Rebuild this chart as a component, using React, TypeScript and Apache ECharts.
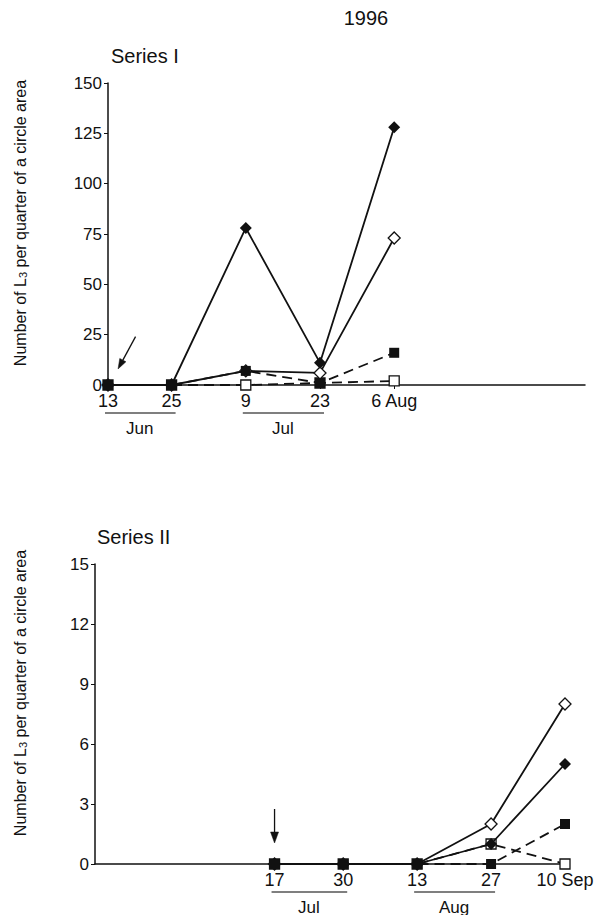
import React, { useEffect, useRef } from "react";
import * as echarts from "echarts";

const FONT = '"Liberation Sans", Arial, Helvetica, sans-serif';
const INK = "#111";

// Days counted from 13 June 1996
const topDays = [0, 12, 26, 40, 54];
const topTickLabels = ["13", "25", "9", "23", "6 Aug"];
const topFilledDiamond = [0, 0, 78, 11, 128];
const topOpenDiamond = [0, 0, 7, 6, 73];
const topFilledSquare = [0, 0, 7, 1, 16];
const topOpenSquare = [0, 0, 0, 1, 2];

const bottomDays = [34, 47, 61, 75, 89];
const bottomTickLabels = ["17", "30", "13", "27", "10 Sep"];
const bottomOpenDiamond = [0, 0, 0, 2, 8];
const bottomFilledDiamond = [0, 0, 0, 1, 5];
const bottomFilledSquare = [0, 0, 0, 0, 2];
const bottomOpenSquare = [0, 0, 0, 1, 0];

const topMonths = [
  { label: "Jun", from: 0, to: 12 },
  { label: "Jul", from: 26, to: 40 },
];
const bottomMonths = [
  { label: "Jul", from: 34, to: 47 },
  { label: "Aug", from: 61, to: 75 },
];

// arrows in data coordinates [day, value]
const topArrow = { from: [5.2, 24], to: [1.9, 8] };
const bottomArrow = { from: [34, 2.75], to: [34, 1.05] };

const yName = "Number of L{sub|3} per quarter of a circle area";

function mkSeries(
  days: number[],
  vals: number[],
  grid: number,
  kind: "fd" | "od" | "fs" | "os"
) {
  const diamond = kind === "fd" || kind === "od";
  const filled = kind === "fd" || kind === "fs";
  const z = { os: 2, od: 3, fd: 4, fs: 5 }[kind];
  return {
    type: "line",
    xAxisIndex: grid,
    yAxisIndex: grid,
    data: days.map((d, i) => [d, vals[i]]),
    symbol: diamond ? "diamond" : "rect",
    symbolSize: diamond ? 12 : 10,
    showAllSymbol: true,
    itemStyle: {
      color: filled ? INK : "#fff",
      borderColor: INK,
      borderWidth: filled ? 0 : 1.3,
      opacity: 1,
    },
    lineStyle: {
      color: INK,
      width: 1.8,
      type: diamond ? "solid" : [10, 6],
    },
    z,
    silent: true,
  };
}

function xAxisFor(grid: number, days: number[], labels: string[], max: number) {
  return {
    type: "value",
    gridIndex: grid,
    min: 0,
    max,
    axisLine: { show: true, onZero: false, lineStyle: { color: INK, width: 1.5 } },
    axisTick: {
      show: true,
      customValues: days,
      length: 4,
      lineStyle: { color: INK, width: 1 },
    },
    axisLabel: {
      customValues: days,
      formatter: (v: number) => {
        const i = days.indexOf(v);
        return i >= 0 ? labels[i] : "";
      },
      fontSize: 18,
      margin: 7,
      color: INK,
      fontFamily: FONT,
    },
    splitLine: { show: false },
  };
}

function yAxisFor(grid: number, max: number, interval: number) {
  return {
    type: "value",
    gridIndex: grid,
    min: 0,
    max,
    interval,
    axisLine: { show: true, lineStyle: { color: INK, width: 1.5 } },
    axisTick: { show: true, length: 4, lineStyle: { color: INK, width: 1 } },
    axisLabel: { fontSize: 17, margin: 6, color: INK, fontFamily: FONT },
    splitLine: { show: false },
  };
}

export default function App() {
  const ref = useRef<HTMLDivElement>(null);
  useEffect(() => {
    if (!ref.current) return;
    const chart = echarts.init(ref.current, null, { renderer: "svg" });
    const option: any = {
      animation: false,
      backgroundColor: "#fff",
      grid: [
        { left: 108, top: 83, width: 477, height: 302 },
        { left: 95, top: 564, width: 470, height: 300 },
      ],
      xAxis: [
        xAxisFor(0, topDays, topTickLabels, 90),
        xAxisFor(1, bottomDays, bottomTickLabels, 89),
      ],
      yAxis: [yAxisFor(0, 150, 25), yAxisFor(1, 15, 3)],
      series: [
        mkSeries(topDays, topOpenDiamond, 0, "od"),
        mkSeries(topDays, topFilledDiamond, 0, "fd"),
        mkSeries(topDays, topOpenSquare, 0, "os"),
        mkSeries(topDays, topFilledSquare, 0, "fs"),
        mkSeries(bottomDays, bottomOpenDiamond, 1, "od"),
        mkSeries(bottomDays, bottomFilledDiamond, 1, "fd"),
        mkSeries(bottomDays, bottomOpenSquare, 1, "os"),
        mkSeries(bottomDays, bottomFilledSquare, 1, "fs"),
      ],
    };
    chart.setOption(option);

    const px = (g: number, d: number, v: number): number[] =>
      chart.convertToPixel({ gridIndex: g } as any, [d, v]) as number[];

    const graphics: any[] = [];
    const textStyle = (text: string, size: number) => ({
      text,
      fontSize: size,
      fontFamily: FONT,
      fill: INK,
    });

    graphics.push({
      type: "text",
      x: 366,
      y: 18,
      style: { ...textStyle("1996", 20), textAlign: "center", textVerticalAlign: "middle" },
    });
    const o0 = px(0, 0, 150);
    const o1 = px(1, 0, 15);
    graphics.push({
      type: "text",
      x: o0[0] + 3,
      y: o0[1] - 27,
      style: { ...textStyle("Series I", 20), textAlign: "left", textVerticalAlign: "middle" },
    });
    graphics.push({
      type: "text",
      x: o1[0] + 2,
      y: o1[1] - 27,
      style: { ...textStyle("Series II", 20), textAlign: "left", textVerticalAlign: "middle" },
    });

    // y axis names (rotated)
    const nameCenters = [
      [20, 223],
      [20, 693],
    ];
    nameCenters.forEach(([cx, cy]) => {
      graphics.push({
        type: "text",
        x: cx,
        y: cy,
        rotation: Math.PI / 2,
        style: {
          text: yName,
          fontSize: 16,
          fontFamily: FONT,
          fill: INK,
          textAlign: "center",
          textVerticalAlign: "middle",
          rich: {
            sub: {
              fontSize: 11,
              fontFamily: FONT,
              fill: INK,
              verticalAlign: "bottom",
              lineHeight: 10,
            },
          },
        },
      });
    });

    // month underlines and labels
    const months = (g: number, list: typeof topMonths) => {
      list.forEach((m) => {
        const a = px(g, m.from, 0);
        const b = px(g, m.to, 0);
        graphics.push({
          type: "line",
          shape: { x1: a[0] - 3, y1: a[1] + 28, x2: b[0] + 4, y2: a[1] + 28 },
          style: { stroke: "#555", lineWidth: 1.5 },
        });
        graphics.push({
          type: "text",
          x: (a[0] + b[0]) / 2,
          y: a[1] + 43,
          style: { ...textStyle(m.label, 17), textAlign: "center", textVerticalAlign: "middle" },
        });
      });
    };
    months(0, topMonths);
    months(1, bottomMonths);

    // arrows
    const arrow = (g: number, arr: { from: number[]; to: number[] }, head: number, half: number) => {
      const p1 = px(g, arr.from[0], arr.from[1]);
      const p2 = px(g, arr.to[0], arr.to[1]);
      const dx = p2[0] - p1[0];
      const dy = p2[1] - p1[1];
      const len = Math.sqrt(dx * dx + dy * dy);
      const ux = dx / len;
      const uy = dy / len;
      const bx = p2[0] - ux * head;
      const by = p2[1] - uy * head;
      graphics.push({
        type: "line",
        shape: { x1: p1[0], y1: p1[1], x2: bx, y2: by },
        style: { stroke: INK, lineWidth: 1.3 },
      });
      graphics.push({
        type: "polygon",
        shape: {
          points: [
            [p2[0], p2[1]],
            [bx - uy * half, by + ux * half],
            [bx + uy * half, by - ux * half],
          ],
        },
        style: { fill: INK, stroke: INK, lineWidth: 0.5 },
      });
    };
    arrow(0, topArrow, 10, 3.5);
    arrow(1, bottomArrow, 11, 4);

    chart.setOption({ graphic: graphics });
    return () => chart.dispose();
  }, []);

  return (
    <div
      ref={ref}
      style={{ position: "fixed", left: 0, top: 0, width: 600, height: 915, background: "#fff" }}
    />
  );
}
